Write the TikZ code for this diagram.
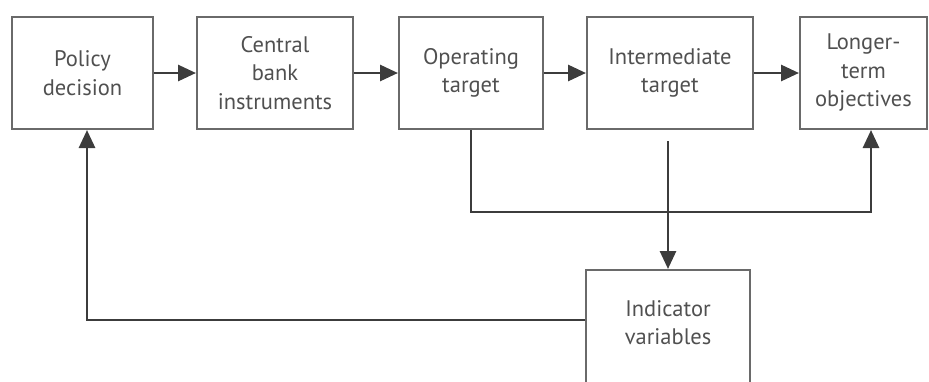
\documentclass[tikz,border=0pt]{standalone}
\usepackage{fontspec}
\setmainfont{PT Sans}
\usetikzlibrary{arrows.meta}
\definecolor{boxgray}{HTML}{6A6A6A}
\definecolor{linegray}{HTML}{3C3C3C}
\definecolor{textgray}{HTML}{505050}
\tikzset{
  box/.style={draw=boxgray,line width=2pt,align=center,inner sep=0pt,
    text=textgray,font=\fontsize{22.5}{28.5}\selectfont},
  link/.style={draw=linegray,line width=2.8pt,
    -{Triangle[length=18pt,width=16pt]}}
}
\begin{document}
\begin{tikzpicture}[x=1pt,y=-1pt]
    \useasboundingbox (0,0) rectangle (929,381);
    \clip (0,0) rectangle (929,381);
    % top row
    \node[box,minimum width=141pt,minimum height=112pt] (policy) at (82.5,73){Policy\\decision};
    \node[box,minimum width=156pt,minimum height=112pt] (central) at (275,73){Central\\bank\\instruments};
    \node[box,minimum width=144pt,minimum height=112pt] (operating) at (471,73){Operating\\target};
    \node[box,minimum width=166pt,minimum height=112pt] (intermediate) at (670,73){Intermediate\\target};
    \node[box,minimum width=127pt,minimum height=112pt] (longer) at (863.5,73){Longer-\\term\\objectives};
    % bottom box, cut by the lower edge
    \node[box,minimum width=164pt,minimum height=134pt] (indicator) at (668,337){Indicator\\variables\\\mbox{}};
    \coordinate (join) at (871,212);
    \coordinate (back) at (87,320);
    \draw[link](policy)--(central);
    \draw[link](central)--(operating);
    \draw[link](operating)--(intermediate);
    \draw[link](intermediate)--(longer);
    \draw[link](operating.south)|-(join)--(join |- longer.south);
    \draw[link]([yshift=-11pt]intermediate.south -| indicator.north)--(indicator.north);
    \draw[link](indicator.west |- back)--(back)--(back |- policy.south);
\end{tikzpicture}
\end{document}
